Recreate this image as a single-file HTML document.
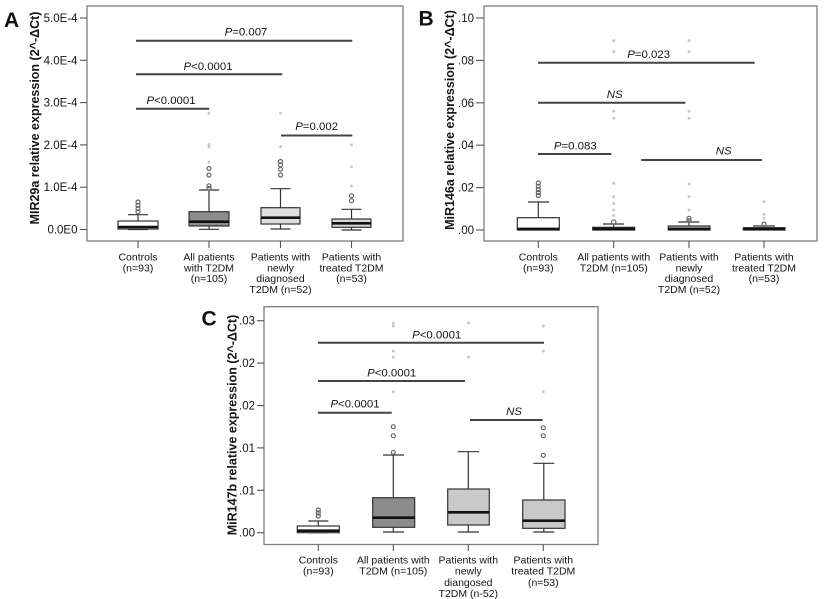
<!DOCTYPE html>
<html><head><meta charset="utf-8"><style>
html,body{margin:0;padding:0;background:#fff}
svg{display:block}
text{font-family:"Liberation Sans",Arial,sans-serif;fill:#141414}
.tk{font-size:11.5px;text-anchor:end}
.cat{font-size:10.5px;text-anchor:middle}
.yl{font-size:12.5px;font-weight:bold;text-anchor:middle}
.pl{font-size:21px;font-weight:bold;fill:#111}
.an{font-size:11.4px;text-anchor:middle}
.fr{fill:none;stroke:#7d7d7d;stroke-width:1.3}
.ax{stroke:#555;stroke-width:1.1}
.bx{stroke:#333;stroke-width:1.2}
.md{stroke:#111;stroke-width:2.6}
.al{stroke:#444;stroke-width:2}
.oc{fill:none;stroke:#666;stroke-width:1.2}
.fd{fill:#c8c8c8}
</style></head><body>
<svg width="824" height="599" viewBox="0 0 824 599" xmlns="http://www.w3.org/2000/svg">
<rect width="824" height="599" fill="#fff"/>

<!-- ================= PANEL A ================= -->
<text class="pl" x="4" y="27">A</text>
<rect class="fr" x="87" y="6" width="316" height="235"/>
<g class="ax">
<line x1="80" y1="229.5" x2="87" y2="229.5"/><line x1="80" y1="187.2" x2="87" y2="187.2"/>
<line x1="80" y1="144.9" x2="87" y2="144.9"/><line x1="80" y1="102.6" x2="87" y2="102.6"/>
<line x1="80" y1="60.3" x2="87" y2="60.3"/><line x1="80" y1="18" x2="87" y2="18"/>
<line x1="138" y1="241" x2="138" y2="248"/><line x1="209" y1="241" x2="209" y2="248"/>
<line x1="280.5" y1="241" x2="280.5" y2="248"/><line x1="351.5" y1="241" x2="351.5" y2="248"/>
</g>
<text class="tk" x="77.5" y="233.5">0.0E0</text>
<text class="tk" x="77.5" y="191.2">1.0E-4</text>
<text class="tk" x="77.5" y="148.9">2.0E-4</text>
<text class="tk" x="77.5" y="106.6">3.0E-4</text>
<text class="tk" x="77.5" y="64.3">4.0E-4</text>
<text class="tk" x="77.5" y="22">5.0E-4</text>
<text class="yl" transform="translate(39,118) rotate(-90)">MIR29a relative expression (2^-ΔCt)</text>

<text class="cat" x="138" y="260.7">Controls</text><text class="cat" x="138" y="271.4">(n=93)</text>
<text class="cat" x="209" y="260.7">All patients</text><text class="cat" x="209" y="271.4">with T2DM</text><text class="cat" x="209" y="282.1">(n=105)</text>
<text class="cat" x="280.5" y="260.7">Patients with</text><text class="cat" x="280.5" y="271.4">newly</text><text class="cat" x="280.5" y="282.1">diagnosed</text><text class="cat" x="280.5" y="292.8">T2DM (n=52)</text>
<text class="cat" x="351.5" y="260.7">Patients with</text><text class="cat" x="351.5" y="271.4">treated T2DM</text><text class="cat" x="351.5" y="282.1">(n=53)</text>

<!-- annotations A -->
<line class="al" x1="136" y1="40.7" x2="352.3" y2="40.7"/>
<text class="an" x="246" y="35.7"><tspan font-style="italic">P</tspan>=0.007</text>
<line class="al" x1="136" y1="74.3" x2="282.3" y2="74.3"/>
<text class="an" x="208" y="70"><tspan font-style="italic">P</tspan>&lt;0.0001</text>
<line class="al" x1="136" y1="108.7" x2="209.3" y2="108.7"/>
<text class="an" x="171" y="104"><tspan font-style="italic">P</tspan>&lt;0.0001</text>
<line class="al" x1="281" y1="135.5" x2="352.3" y2="135.5"/>
<text class="an" x="316.7" y="130"><tspan font-style="italic">P</tspan>=0.002</text>

<!-- boxes A -->
<g class="bx">
<line x1="138" y1="214.7" x2="138" y2="221"/><line x1="128" y1="214.7" x2="148" y2="214.7"/><line x1="128" y1="229.5" x2="148" y2="229.5"/>
<rect x="118" y="221" width="40" height="8" fill="#fff"/>
<line x1="209" y1="190" x2="209" y2="211.7"/><line x1="209" y1="226" x2="209" y2="229.3"/><line x1="199" y1="190" x2="219" y2="190"/><line x1="199" y1="229.3" x2="219" y2="229.3"/>
<rect x="189" y="211.7" width="40" height="14.3" fill="#8c8c8c"/>
<line x1="280.5" y1="188.7" x2="280.5" y2="207.7"/><line x1="280.5" y1="224" x2="280.5" y2="229"/><line x1="270.5" y1="188.7" x2="290.5" y2="188.7"/><line x1="270.5" y1="229" x2="290.5" y2="229"/>
<rect x="261" y="207.7" width="39" height="16.3" fill="#dedede"/>
<line x1="351.5" y1="209.3" x2="351.5" y2="219"/><line x1="351.5" y1="227.3" x2="351.5" y2="230"/><line x1="341.5" y1="209.3" x2="361.5" y2="209.3"/><line x1="341.5" y1="230" x2="361.5" y2="230"/>
<rect x="332" y="219" width="39" height="8.3" fill="#d6d6d6"/>
</g>
<g class="md">
<line x1="118" y1="227" x2="158" y2="227"/><line x1="189" y1="221.7" x2="229" y2="221.7"/>
<line x1="261" y1="217.7" x2="300" y2="217.7"/><line x1="332" y1="223.3" x2="371" y2="223.3"/>
</g>
<g class="oc">
<circle cx="138" cy="202" r="2"/><circle cx="138" cy="205.3" r="2"/><circle cx="138" cy="208.6" r="2"/><circle cx="138" cy="211.8" r="2"/>
<circle cx="209" cy="188.3" r="2"/><circle cx="209" cy="185.8" r="2"/><circle cx="209" cy="175" r="2"/><circle cx="209" cy="168.5" r="2"/>
<circle cx="280.5" cy="175" r="2"/><circle cx="280.5" cy="169.3" r="2"/><circle cx="280.5" cy="165" r="2"/><circle cx="280.5" cy="161.5" r="2"/>
<circle cx="351.5" cy="195.7" r="2"/><circle cx="351.5" cy="200.7" r="2"/>
</g>
<g class="fd">
<circle cx="209" cy="162" r="1.5"/><circle cx="209" cy="147" r="1.5"/><circle cx="209" cy="144.5" r="1.5"/><circle cx="209" cy="113.3" r="1.5"/>
<circle cx="280.5" cy="146.7" r="1.5"/><circle cx="280.5" cy="113.3" r="1.5"/>
<circle cx="351.5" cy="166.7" r="1.5"/><circle cx="351.5" cy="186" r="1.5"/><circle cx="351.5" cy="145" r="1.5"/>
</g>

<!-- ================= PANEL B ================= -->
<text class="pl" x="418.5" y="25.5">B</text>
<rect class="fr" x="484" y="6" width="333" height="235"/>
<g class="ax">
<line x1="476" y1="230" x2="484" y2="230"/><line x1="476" y1="187.6" x2="484" y2="187.6"/>
<line x1="476" y1="145.2" x2="484" y2="145.2"/><line x1="476" y1="102.8" x2="484" y2="102.8"/>
<line x1="476" y1="60.4" x2="484" y2="60.4"/><line x1="476" y1="18" x2="484" y2="18"/>
<line x1="538.3" y1="241" x2="538.3" y2="248"/><line x1="613.7" y1="241" x2="613.7" y2="248"/>
<line x1="689" y1="241" x2="689" y2="248"/><line x1="764" y1="241" x2="764" y2="248"/>
</g>
<text class="tk" x="474" y="234">.00</text>
<text class="tk" x="474" y="191.6">.02</text>
<text class="tk" x="474" y="149.2">.04</text>
<text class="tk" x="474" y="106.8">.06</text>
<text class="tk" x="474" y="64.4">.08</text>
<text class="tk" x="474" y="22">.10</text>
<text class="yl" transform="translate(454,120) rotate(-90)">MiR146a relative expression (2^-ΔCt)</text>

<text class="cat" x="538.3" y="260.7">Controls</text><text class="cat" x="538.3" y="271.4">(n=93)</text>
<text class="cat" x="613.7" y="260.7">All patients with</text><text class="cat" x="613.7" y="271.4">T2DM (n=105)</text>
<text class="cat" x="689" y="260.7">Patients with</text><text class="cat" x="689" y="271.4">newly</text><text class="cat" x="689" y="282.1">diagnosed</text><text class="cat" x="689" y="292.8">T2DM (n=52)</text>
<text class="cat" x="764" y="260.7">Patients with</text><text class="cat" x="764" y="271.4">treated T2DM</text><text class="cat" x="764" y="282.1">(n=53)</text>

<line class="al" x1="538" y1="62.7" x2="754.7" y2="62.7"/>
<text class="an" x="648.7" y="58"><tspan font-style="italic">P</tspan>=0.023</text>
<line class="al" x1="538" y1="102.7" x2="685.3" y2="102.7"/>
<text class="an" x="614.7" y="98" font-style="italic">NS</text>
<line class="al" x1="538" y1="154" x2="611.3" y2="154"/>
<text class="an" x="575.3" y="149.3"><tspan font-style="italic">P</tspan>=0.083</text>
<line class="al" x1="641.3" y1="160" x2="762" y2="160"/>
<text class="an" x="723.7" y="154.7" font-style="italic">NS</text>

<g class="fd">
<circle cx="613.7" cy="40.7" r="1.5"/><circle cx="613.7" cy="51.7" r="1.5"/><circle cx="613.7" cy="111.3" r="1.5"/><circle cx="613.7" cy="118.3" r="1.5"/>
<circle cx="613.7" cy="183.3" r="1.5"/><circle cx="613.7" cy="196.7" r="1.5"/><circle cx="613.7" cy="203.5" r="1.5"/><circle cx="613.7" cy="210" r="1.5"/><circle cx="613.7" cy="215.5" r="1.5"/>
<circle cx="689" cy="40.7" r="1.5"/><circle cx="689" cy="51.7" r="1.5"/><circle cx="689" cy="111.3" r="1.5"/><circle cx="689" cy="118.3" r="1.5"/>
<circle cx="689" cy="184" r="1.5"/><circle cx="689" cy="196.7" r="1.5"/><circle cx="689" cy="210" r="1.5"/>
<circle cx="764" cy="201.7" r="1.5"/><circle cx="764" cy="214.3" r="1.5"/><circle cx="764" cy="218.3" r="1.5"/>
</g>
<g class="bx">
<line x1="538.3" y1="202" x2="538.3" y2="217.7"/><line x1="528" y1="202" x2="549" y2="202"/>
<rect x="517.3" y="217.7" width="42" height="12.3" fill="#fff"/>
<line x1="613.7" y1="224" x2="613.7" y2="227.3"/><line x1="603" y1="224" x2="624" y2="224"/>
<rect x="592.7" y="227.3" width="42" height="2.7" fill="#888"/>
<line x1="689" y1="222" x2="689" y2="226"/><line x1="678.3" y1="222" x2="699.5" y2="222"/>
<rect x="668.3" y="226" width="41.7" height="4" fill="#bbb"/>
<line x1="764" y1="226" x2="764" y2="227.7"/><line x1="753" y1="226" x2="775" y2="226"/>
<rect x="743.3" y="227.7" width="41.7" height="2.3" fill="#bbb"/>
</g>
<g class="md" style="stroke-width:2.8">
<line x1="517.3" y1="229" x2="559.3" y2="229"/><line x1="592.7" y1="229" x2="634.7" y2="229"/>
<line x1="668.3" y1="229" x2="710" y2="229"/><line x1="743.3" y1="229" x2="785" y2="229"/>
</g>
<g class="oc">
<circle cx="538.3" cy="183" r="2"/><circle cx="538.3" cy="186.3" r="2"/><circle cx="538.3" cy="189.5" r="2"/><circle cx="538.3" cy="192.5" r="2"/><circle cx="538.3" cy="195.5" r="2"/>
<circle cx="613.7" cy="222" r="2.2"/>
<circle cx="689" cy="218.3" r="2"/><circle cx="689" cy="220.7" r="2"/>
<circle cx="764" cy="224" r="2"/>
</g>

<!-- ================= PANEL C ================= -->
<text class="pl" x="201.5" y="325.5">C</text>
<rect class="fr" x="264" y="306.7" width="334" height="237.8"/>
<g class="ax">
<line x1="257" y1="532.7" x2="264" y2="532.7"/><line x1="257" y1="490.3" x2="264" y2="490.3"/>
<line x1="257" y1="447.9" x2="264" y2="447.9"/><line x1="257" y1="405.5" x2="264" y2="405.5"/>
<line x1="257" y1="363.1" x2="264" y2="363.1"/><line x1="257" y1="320.7" x2="264" y2="320.7"/>
<line x1="318.3" y1="544.5" x2="318.3" y2="551"/><line x1="393.3" y1="544.5" x2="393.3" y2="551"/>
<line x1="468.3" y1="544.5" x2="468.3" y2="551"/><line x1="543.3" y1="544.5" x2="543.3" y2="551"/>
</g>
<text class="tk" x="255" y="536.7">.00</text>
<text class="tk" x="255" y="494.3">.01</text>
<text class="tk" x="255" y="451.9">.01</text>
<text class="tk" x="255" y="409.5">.02</text>
<text class="tk" x="255" y="367.1">.02</text>
<text class="tk" x="255" y="324.7">.03</text>
<text class="yl" transform="translate(236.5,425) rotate(-90)">MiR147b relative expression (2^-ΔCt)</text>

<text class="cat" x="318.3" y="563.3">Controls</text><text class="cat" x="318.3" y="574.6">(n=93)</text>
<text class="cat" x="393.3" y="563.3">All patients with</text><text class="cat" x="393.3" y="574.6">T2DM (n=105)</text>
<text class="cat" x="468.3" y="563.3">Patients with</text><text class="cat" x="468.3" y="574.6">newly</text><text class="cat" x="468.3" y="585.9">diangosed</text><text class="cat" x="468.3" y="597.2">T2DM (n-52)</text>
<text class="cat" x="543.3" y="563.3">Patients with</text><text class="cat" x="543.3" y="574.6">treated T2DM</text><text class="cat" x="543.3" y="585.9">(n=53)</text>

<line class="al" x1="318" y1="342.7" x2="544" y2="342.7"/>
<text class="an" x="436.7" y="338.3"><tspan font-style="italic">P</tspan>&lt;0.0001</text>
<line class="al" x1="318" y1="381" x2="465" y2="381"/>
<text class="an" x="391.7" y="376.7"><tspan font-style="italic">P</tspan>&lt;0.0001</text>
<line class="al" x1="318" y1="412.7" x2="391.7" y2="412.7"/>
<text class="an" x="355" y="407.3"><tspan font-style="italic">P</tspan>&lt;0.0001</text>
<line class="al" x1="470" y1="420" x2="542.7" y2="420"/>
<text class="an" x="514" y="415" font-style="italic">NS</text>

<g class="fd">
<circle cx="393.3" cy="391.7" r="1.5"/><circle cx="393.3" cy="357.3" r="1.5"/><circle cx="393.3" cy="351" r="1.5"/><circle cx="393.3" cy="326" r="1.5"/><circle cx="393.3" cy="323.3" r="1.5"/>
<circle cx="468.3" cy="357.3" r="1.5"/><circle cx="468.3" cy="322.7" r="1.5"/>
<circle cx="543.3" cy="391.7" r="1.5"/><circle cx="543.3" cy="351" r="1.5"/><circle cx="543.3" cy="326" r="1.5"/>
</g>
<g class="bx">
<line x1="318.3" y1="521" x2="318.3" y2="526"/><line x1="308.3" y1="521" x2="328.3" y2="521"/><line x1="308.3" y1="532.7" x2="328.3" y2="532.7"/>
<rect x="297.3" y="526" width="42" height="6.7" fill="#fff"/>
<line x1="393.3" y1="455" x2="393.3" y2="497.7"/><line x1="393.3" y1="527.3" x2="393.3" y2="532"/><line x1="383" y1="455" x2="404" y2="455"/><line x1="383" y1="532" x2="404" y2="532"/>
<rect x="372.7" y="497.7" width="42" height="29.6" fill="#8c8c8c"/>
<line x1="468.3" y1="451.7" x2="468.3" y2="489"/><line x1="468.3" y1="525" x2="468.3" y2="532"/><line x1="457.7" y1="451.7" x2="479" y2="451.7"/><line x1="457.7" y1="532" x2="479" y2="532"/>
<rect x="447.7" y="489" width="41.6" height="36" fill="#c9c9c9"/>
<line x1="543.8" y1="463.3" x2="543.8" y2="500"/><line x1="543.8" y1="528.3" x2="543.8" y2="532"/><line x1="533.3" y1="463.3" x2="554.3" y2="463.3"/><line x1="533.3" y1="532" x2="554.3" y2="532"/>
<rect x="522.7" y="500" width="42.3" height="28.3" fill="#c9c9c9"/>
</g>
<g class="md">
<line x1="297.3" y1="530.7" x2="339.3" y2="530.7"/><line x1="372.7" y1="517.7" x2="414.7" y2="517.7"/>
<line x1="447.7" y1="512.3" x2="489.3" y2="512.3"/><line x1="522.7" y1="520.7" x2="565" y2="520.7"/>
</g>
<g class="oc">
<circle cx="318.3" cy="510" r="2"/><circle cx="318.3" cy="513" r="2"/><circle cx="318.3" cy="516" r="2"/>
<circle cx="393.3" cy="452.3" r="2"/><circle cx="393.3" cy="435.7" r="2"/><circle cx="393.3" cy="426.7" r="2"/>
<circle cx="543.3" cy="455.3" r="2"/><circle cx="543.3" cy="435.7" r="2"/><circle cx="543.3" cy="427.7" r="2"/>
</g>
</svg>
</body></html>
